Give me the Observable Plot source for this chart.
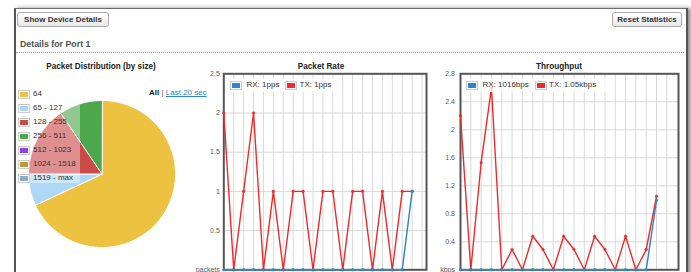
<!DOCTYPE html>
<html>
<head>
<meta charset="utf-8">
<script src="https://cdn.jsdelivr.net/npm/d3@7"></script>
<script src="https://cdn.jsdelivr.net/npm/@observablehq/plot@0.6"></script>
<style>
  html, body { margin: 0; padding: 0; background: #fff; }
  body { font-family: "Liberation Sans", Arial, Helvetica, sans-serif; }
  #stage { position: relative; width: 691px; height: 272px; overflow: hidden; background: #fff; }
  .abs { position: absolute; }
  .panel { left: 14px; top: 8px; width: 670px; height: 300px; border-top: 1px solid #6f6f6f; border-left: 2px solid #555; border-right: 2px solid #555; box-shadow: 3px 0 4px rgba(0,0,0,0.45); }
  .btn { height: 13px; border: 1px solid #a9a9a9; border-radius: 3px; background: linear-gradient(#ffffff, #e9e9e9); font-size: 8px; font-weight: bold; color: #333; line-height: 13px; text-align: center; white-space: nowrap; }
  .hdr { left: 20px; top: 39px; font-size: 8.8px; font-weight: bold; color: #505050; white-space: nowrap; }
  .sep { left: 16px; top: 52px; width: 668px; border-top: 1px dotted #9a9a9a; height: 0; }
  .title { font-size: 8.2px; font-weight: bold; color: #222; white-space: nowrap; transform: translateX(-50%); }
  .lg { font-size: 8px; color: #333; white-space: nowrap; }
  .sw { position: absolute; border: 1px solid #ccc; padding: 1px; background: #fff; }
  .sw div { width: 8px; height: 5px; }
  .lsw { position: absolute; border: 1px solid #ccc; padding: 1px; }
  .lsw div { width: 8px; height: 5px; }
</style>
</head>
<body>
<div id="stage"></div>
<script>
// ---------- data ----------
const sizeLabels = ["64", "65 - 127", "128 - 255", "256 - 511", "512 - 1023", "1024 - 1518", "1519 - max"];
const sizeShares = [68.0, 7.0, 15.5, 9.5, 0, 0, 0];
const sizeColors = ["#edc240", "#afd8f8", "#cb4b4b", "#4da74d", "#9440ed", "#bd9b33", "#8cacc6"];

const rateTx = [2, 0, 1, 2, 0, 1, 0, 1, 1, 0, 1, 1, 0, 1, 1, 0, 1, 0, 1, 1];
const rateRx = [0, 0, 0, 0, 0, 0, 0, 0, 0, 0, 0, 0, 0, 0, 0, 0, 0, 0, 0, 1];
const rateTicks = [0, 0.5, 1, 1.5, 2, 2.5];
const rateLegend = ["RX: 1pps", "TX: 1pps"];

const thrTx = [2.2, 0, 1.53, 2.6, 0, 0.29, 0, 0.48, 0.29, 0, 0.48, 0.29, 0, 0.48, 0.29, 0, 0.48, 0, 0.29, 1.05];
const thrRx = [0, 0, 0, 0, 0, 0, 0, 0, 0, 0, 0, 0, 0, 0, 0, 0, 0, 0, 0, 0.99];
const thrTicks = [0, 0.4, 0.8, 1.2, 1.6, 2, 2.4, 2.8];
const thrLegend = ["RX: 1016bps", "TX: 1.05kbps"];

const rxColor = "#2f82cc";
const txColor = "#ee2b2b";
const FONT = '"Liberation Sans", Arial, Helvetica, sans-serif';

const stage = document.getElementById("stage");
function el(cls, css, html) {
  const d = document.createElement("div");
  d.className = "abs " + (cls || "");
  Object.assign(d.style, css || {});
  if (html != null) d.innerHTML = html;
  stage.appendChild(d);
  return d;
}

// ---------- page chrome ----------
el("panel");
el("btn", {left: "17px", top: "12px", width: "90px"}, "Show Device Details");
el("btn", {left: "612px", top: "12px", width: "68px"}, "Reset Statistics");
el("hdr", {}, "Details for Port 1");
el("sep");

// ---------- pie ----------
el("title", {left: "101px", top: "62px"}, "Packet Distribution (by size)");

const total = d3.sum(sizeShares);
const cum = d3.cumsum(sizeShares);
function arcPts(a0, a1) {
  const n = Math.max(2, Math.ceil((a1 - a0) / (Math.PI / 180)));
  return d3.range(n + 1).map(k => {
    const a = a0 + (a1 - a0) * k / n;
    return [Math.sin(a), -Math.cos(a)];
  });
}
const slices = sizeLabels.map((label, k) => {
  const a0 = (cum[k] - sizeShares[k]) / total * 2 * Math.PI;
  const a1 = cum[k] / total * 2 * Math.PI;
  return {label, a0, a1};
}).filter(d => d.a1 > d.a0).map(d => ({
  type: "Feature",
  properties: {label: d.label},
  geometry: {type: "Polygon", coordinates: [[[0, 0], ...arcPts(d.a0, d.a1), [0, 0]]]}
}));
const disc = {type: "Polygon", coordinates: [arcPts(0, 2 * Math.PI)]};

const pie = Plot.plot({
  width: 149, height: 149, margin: 0,
  projection: {type: "identity", domain: disc, inset: 1},
  color: {domain: sizeLabels, range: sizeColors},
  style: {background: "transparent", overflow: "visible"},
  marks: [
    Plot.geo(slices, {fill: d => d.properties.label, stroke: "#fff", strokeWidth: 1})
  ]
});
const pieWrap = el("", {left: "27.2px", top: "98.8px"});
pieWrap.appendChild(pie);

// pie legend (flot style, translucent background over the pie)
el("", {left: "16px", top: "87px", width: "64px", height: "96px", background: "rgba(255,255,255,0.38)"});
sizeLabels.forEach((lab, k) => {
  const cy = 94 + k * 14;
  const s = el("", {left: "18px", top: (cy - 4.5) + "px"});
  s.innerHTML = `<div class="sw" style="position:static"><div style="background:${sizeColors[k]}"></div></div>`;
  el("lg", {left: "33px", top: (cy - 5) + "px"}, lab);
});
el("lg", {left: "149px", top: "88px"}, '<b style="color:#222">All</b> <span style="color:#555">|</span> <span style="color:#2d86d4;text-decoration:underline">Last 20 sec</span>');

// ---------- line charts ----------
function lineChart({left, top, width, height, mL, mT, mR, mB, xMax, yMax, ticks, unit, tx, rx, tickPad}) {
  const grid = {stroke: "#d9d9d9", strokeOpacity: 1, strokeWidth: 1};
  const chart = Plot.plot({
    width, height, marginLeft: mL, marginTop: mT, marginRight: mR, marginBottom: mB,
    x: {domain: [0, xMax], axis: null},
    y: {domain: [0, yMax], axis: null},
    style: {background: "transparent", fontFamily: FONT, fontSize: "7px", color: "#555", overflow: "visible"},
    marks: [
      Plot.gridX(d3.range(1, 21), grid),
      Plot.gridY(ticks.filter(t => t > 0 && t < yMax), grid),
      Plot.axisY(ticks, {tickSize: 0, tickPadding: tickPad, fill: "#5a5a5a",
        tickFormat: d => d === 0 ? unit : String(d)}),
      Plot.frame({stroke: "#555", strokeWidth: 2}),
      Plot.lineY(tx, {x: (d, i) => i, y: d => d, stroke: txColor, strokeWidth: 1.4}),
      Plot.dot(tx, {x: (d, i) => i, y: d => d, r: 1.3, fill: txColor, stroke: txColor, strokeWidth: 0.5}),
      Plot.lineY(rx, {x: (d, i) => i, y: d => d, stroke: rxColor, strokeWidth: 1.4}),
      Plot.dot(rx, {x: (d, i) => i, y: d => d, r: 1.3, fill: rxColor, stroke: rxColor, strokeWidth: 0.5})
    ]
  });
  const w = el("", {left: left + "px", top: top + "px"});
  w.appendChild(chart);
}

// Packet Rate
el("title", {left: "321px", top: "62px"}, "Packet Rate");
lineChart({left: 190, top: 60, width: 240, height: 222, mL: 33.3, mT: 13.3, mR: 4, mB: 12.7,
  xMax: 20.45, yMax: 2.5, ticks: rateTicks, unit: "packets", tx: rateTx, rx: rateRx, tickPad: 4});
el("", {left: "227px", top: "78px", width: "110px", height: "14px", background: "rgba(255,255,255,0.75)"});
el("", {left: "230px", top: "80.5px"}).innerHTML = `<div class="lsw" style="position:static"><div style="background:${rxColor}"></div></div>`;
el("lg", {left: "246.5px", top: "80px"}, rateLegend[0]);
el("", {left: "284.5px", top: "80.5px"}).innerHTML = `<div class="lsw" style="position:static"><div style="background:${txColor}"></div></div>`;
el("lg", {left: "299.5px", top: "80px"}, rateLegend[1]);

// Throughput
el("title", {left: "559px", top: "62px"}, "Throughput");
lineChart({left: 425, top: 60, width: 258, height: 222, mL: 35, mT: 13.3, mR: 5, mB: 12.7,
  xMax: 21.13, yMax: 2.8, ticks: thrTicks, unit: "kbps", tx: thrTx, rx: thrRx, tickPad: 5.5});
el("", {left: "463px", top: "78px", width: "150px", height: "14px", background: "rgba(255,255,255,0.75)"});
el("", {left: "465.5px", top: "80.5px"}).innerHTML = `<div class="lsw" style="position:static"><div style="background:${rxColor}"></div></div>`;
el("lg", {left: "482.5px", top: "80px"}, thrLegend[0]);
el("", {left: "534.5px", top: "80.5px"}).innerHTML = `<div class="lsw" style="position:static"><div style="background:${txColor}"></div></div>`;
el("lg", {left: "549px", top: "80px"}, thrLegend[1]);
</script>
</body>
</html>
